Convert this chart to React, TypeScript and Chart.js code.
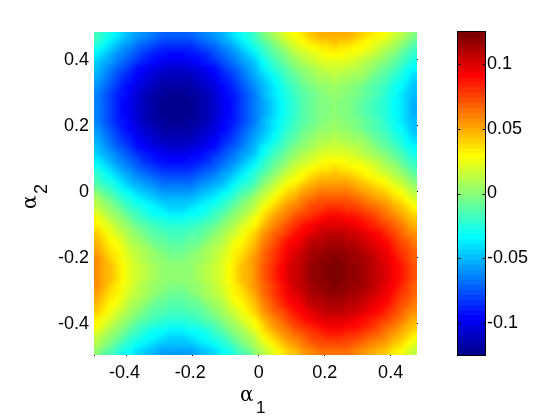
import React, { useEffect, useRef } from "react";
import { Chart, registerables } from "chart.js";

Chart.register(...registerables);

// Cell centres
const alpha1 = [-0.49,-0.47,-0.45,-0.43,-0.41,-0.39,-0.37,-0.35,-0.33,-0.31,-0.29,-0.27,-0.25,-0.23,-0.21,-0.19,-0.17,-0.15,-0.13,-0.11,-0.09,-0.07,-0.05,-0.03,-0.01,0.01,0.03,0.05,0.07,0.09,0.11,0.13,0.15,0.17,0.19,0.21,0.23,0.25,0.27,0.29,0.31,0.33,0.35,0.37,0.39,0.41,0.43,0.45,0.47];
const alpha2 = [0.47,0.45,0.43,0.41,0.39,0.37,0.35,0.33,0.31,0.29,0.27,0.25,0.23,0.21,0.19,0.17,0.15,0.13,0.11,0.09,0.07,0.05,0.03,0.01,-0.01,-0.03,-0.05,-0.07,-0.09,-0.11,-0.13,-0.15,-0.17,-0.19,-0.21,-0.23,-0.25,-0.27,-0.29,-0.31,-0.33,-0.35,-0.37,-0.39,-0.41,-0.43,-0.45,-0.47,-0.49];

// Estimated row values, in thousandths
const a = [-66,-74,-81,-88,-95,-101,-107,-112,-116,-120,-122,-124,-124,-124,-122,-120,-116,-112,-107,-101,-95,-88,-81,-74,-66,-56,-48,-40,-33,-26,-20,-15,-10,-6,-3,-1,0,-1,-3,-5,-8,-12,-16,-21,-26,-32,-38,-45,-52];
const b = [-64,-72,-79,-86,-93,-99,-105,-110,-114,-118,-120,-122,-122,-122,-120,-118,-114,-110,-105,-99,-93,-86,-79,-72,-64,-54,-46,-38,-31,-24,-18,-13,-8,-4,-1,1,2,1,-1,-3,-6,-10,-14,-19,-24,-30,-36,-43,-50];
const c = [-62,-70,-77,-84,-91,-97,-103,-108,-112,-116,-118,-120,-120,-120,-118,-116,-112,-108,-103,-97,-91,-84,-77,-70,-62,-52,-44,-36,-29,-22,-16,-11,-6,-2,1,3,4,3,1,-1,-4,-8,-12,-17,-22,-28,-34,-41,-48];
const d = [-58,-66,-73,-80,-87,-93,-99,-104,-108,-112,-114,-116,-116,-116,-114,-112,-108,-104,-99,-93,-87,-80,-73,-66,-58,-48,-40,-32,-25,-18,-12,-7,-2,2,5,7,8,7,5,3,0,-4,-8,-13,-18,-24,-30,-37,-44];
const e = [-54,-62,-69,-76,-83,-89,-95,-100,-104,-108,-110,-112,-112,-112,-110,-108,-104,-100,-95,-89,-83,-76,-69,-62,-54,-44,-36,-28,-21,-14,-8,-3,2,6,9,11,12,11,9,7,4,0,-4,-9,-14,-20,-26,-33,-40];
const f = [-49,-57,-64,-71,-78,-84,-90,-95,-99,-103,-105,-107,-107,-107,-105,-103,-99,-95,-90,-84,-78,-71,-64,-57,-49,-39,-31,-23,-16,-9,-3,2,7,11,14,16,17,16,14,12,9,5,1,-4,-9,-15,-21,-28,-35];
const g = [-43,-51,-58,-65,-72,-78,-84,-89,-93,-97,-99,-101,-101,-101,-99,-97,-93,-89,-84,-78,-72,-65,-58,-51,-43,-33,-25,-17,-10,-3,3,8,13,17,20,22,23,22,20,18,15,11,7,2,-3,-9,-15,-22,-29];
const h = [-37,-45,-52,-59,-66,-72,-78,-83,-87,-91,-93,-95,-95,-95,-93,-91,-87,-83,-78,-72,-66,-59,-52,-45,-37,-27,-19,-11,-4,3,9,14,19,23,26,28,29,28,26,24,21,17,13,8,3,-3,-9,-16,-23];
const i = [-30,-38,-45,-52,-59,-65,-71,-76,-80,-84,-86,-88,-88,-88,-86,-84,-80,-76,-71,-65,-59,-52,-45,-38,-30,-20,-12,-4,3,10,16,21,26,30,33,35,36,35,33,31,28,24,20,15,10,4,-2,-9,-16];
const j = [-23,-31,-38,-45,-52,-58,-64,-69,-73,-77,-79,-81,-81,-81,-79,-77,-73,-69,-64,-58,-52,-45,-38,-31,-23,-13,-5,3,10,17,23,28,33,37,40,42,43,42,40,38,35,31,27,22,17,11,5,-2,-9];
const k = [-16,-24,-31,-38,-45,-51,-57,-62,-66,-70,-72,-74,-74,-74,-72,-70,-66,-62,-57,-51,-45,-38,-31,-24,-16,-6,2,10,17,24,30,35,40,44,47,49,50,49,47,45,42,38,34,29,24,18,12,5,-2];
const l = [-8,-16,-23,-30,-37,-43,-49,-54,-58,-62,-64,-66,-66,-66,-64,-62,-58,-54,-49,-43,-37,-30,-23,-16,-8,2,10,18,25,32,38,43,48,52,55,57,58,57,55,53,50,46,42,37,32,26,20,13,6];
const m = [0,-8,-15,-22,-29,-35,-41,-46,-50,-54,-56,-58,-58,-58,-56,-54,-50,-46,-41,-35,-29,-22,-15,-8,0,10,18,26,33,40,46,51,56,60,63,65,66,65,63,61,58,54,50,45,40,34,28,21,14];
const n = [8,0,-7,-14,-21,-27,-33,-38,-42,-46,-48,-50,-50,-50,-48,-46,-42,-38,-33,-27,-21,-14,-7,0,8,18,26,34,41,48,54,59,64,68,71,73,74,73,71,69,66,62,58,53,48,42,36,29,22];
const o = [15,7,0,-7,-14,-20,-26,-31,-35,-39,-41,-43,-43,-43,-41,-39,-35,-31,-26,-20,-14,-7,0,7,15,25,33,41,48,55,61,66,71,75,78,80,81,80,78,76,73,69,65,60,55,49,43,36,29];
const p = [22,14,7,0,-7,-13,-19,-24,-28,-32,-34,-36,-36,-36,-34,-32,-28,-24,-19,-13,-7,0,7,14,22,32,40,48,55,62,68,73,78,82,85,87,88,87,85,83,80,76,72,67,62,56,50,43,36];
const q = [29,21,14,7,0,-6,-12,-17,-21,-25,-27,-29,-29,-29,-27,-25,-21,-17,-12,-6,0,7,14,21,29,39,47,55,62,69,75,80,85,89,92,94,95,94,92,90,87,83,79,74,69,63,57,50,43];
const r = [35,27,20,13,6,0,-6,-11,-15,-19,-21,-23,-23,-23,-21,-19,-15,-11,-6,0,6,13,20,27,35,45,53,61,68,75,81,86,91,95,98,100,101,100,98,96,93,89,85,80,75,69,63,56,49];
const s = [41,33,26,19,12,6,0,-5,-9,-13,-15,-17,-17,-17,-15,-13,-9,-5,0,6,12,19,26,33,41,51,59,67,74,81,87,92,97,101,104,106,107,106,104,102,99,95,91,86,81,75,69,62,55];
const t = [46,38,31,24,17,11,5,0,-4,-8,-10,-12,-12,-12,-10,-8,-4,0,5,11,17,24,31,38,46,56,64,72,79,86,92,97,102,106,109,111,112,111,109,107,104,100,96,91,86,80,74,67,60];
const u = [50,42,35,28,21,15,9,4,0,-4,-6,-8,-8,-8,-6,-4,0,4,9,15,21,28,35,42,50,60,68,76,83,90,96,101,106,110,113,115,116,115,113,111,108,104,100,95,90,84,78,71,64];
const v = [54,46,39,32,25,19,13,8,4,0,-2,-4,-4,-4,-2,0,4,8,13,19,25,32,39,46,54,64,72,80,87,94,100,105,110,114,117,119,120,119,117,115,112,108,104,99,94,88,82,75,68];
const w = [56,48,41,34,27,21,15,10,6,2,0,-2,-2,-2,0,2,6,10,15,21,27,34,41,48,56,66,74,82,89,96,102,107,112,116,119,121,122,121,119,117,114,110,106,101,96,90,84,77,70];
const x = [58,50,43,36,29,23,17,12,8,4,2,0,0,0,2,4,8,12,17,23,29,36,43,50,58,68,76,84,91,98,104,109,114,118,121,123,124,123,121,119,116,112,108,103,98,92,86,79,72];

const rows = [k,j,i,h,g,f,e,d,c,b,a,a,a,b,c,d,e,f,g,h,i,j,k,l,m,n,o,p,q,r,s,t,u,v,w,x,x,x,w,v,u,t,s,r,q,p,o,n,m];

const axisTicks = [-0.4, -0.2, 0, 0.2, 0.4];
const colorTicks = [-0.1, -0.05, 0, 0.05, 0.1];
const colorMin = -0.125;
const colorMax = 0.125;
const colorLevels = 64;

const FONT = "'Liberation Sans', Arial, sans-serif";

function jetLevel(idx: number): string {
  const tt = (idx + 1) / colorLevels;
  const cl = (z: number) => Math.max(0, Math.min(1, z));
  const R = cl(1.5 - Math.abs(4 * tt - 3));
  const G = cl(1.5 - Math.abs(4 * tt - 2));
  const B = cl(1.5 - Math.abs(4 * tt - 1));
  return `rgb(${Math.round(R * 255)},${Math.round(G * 255)},${Math.round(B * 255)})`;
}

function jet(val: number): string {
  const idx = Math.floor(((val - colorMin) / (colorMax - colorMin)) * colorLevels);
  return jetLevel(Math.max(0, Math.min(colorLevels - 1, idx)));
}

// Interpolated shading: the drawn cells are resampled smoothly, as the reference's shading is.
const smoothShading = {
  id: "smoothShading",
  afterDatasetsDraw(chart: any) {
    const { ctx, chartArea, canvas } = chart;
    const L = Math.round(chartArea.left);
    const T = Math.round(chartArea.top);
    const W = Math.round(chartArea.right) - L;
    const H = Math.round(chartArea.bottom) - T;
    const small = document.createElement("canvas");
    small.width = alpha1.length;
    small.height = alpha2.length;
    const sctx = small.getContext("2d")!;
    sctx.imageSmoothingEnabled = false;
    sctx.drawImage(canvas, L, T, W, H, 0, 0, small.width, small.height);
    ctx.save();
    ctx.imageSmoothingEnabled = true;
    ctx.imageSmoothingQuality = "high";
    ctx.drawImage(small, L, T, W, H);
    ctx.restore();
  },
};

const mainDecor = {
  id: "mainDecor",
  afterDraw(chart: any) {
    const { ctx, chartArea, scales } = chart;
    ctx.save();
    ctx.fillStyle = "#000";
    for (const tv of axisTicks) {
      ctx.fillRect(Math.round(chartArea.right), Math.round(scales.y.getPixelForValue(tv)) + 1, 1, 1);
    }
    ctx.fillRect(Math.round(chartArea.left), Math.round(chartArea.bottom), 1, 1);
    ctx.textAlign = "left";
    ctx.textBaseline = "alphabetic";
    ctx.font = `20px 'DejaVu Serif', serif`;
    ctx.fillText("α", 240, 401);
    ctx.font = `17px ${FONT}`;
    ctx.fillText("1", 256, 413);
    ctx.translate(36, 209);
    ctx.rotate(-Math.PI / 2);
    ctx.font = `20px 'DejaVu Serif', serif`;
    ctx.fillText("α", 0, 0);
    ctx.font = `18px ${FONT}`;
    ctx.fillText("2", 15, 11);
    ctx.restore();
  },
};

const barDecor = {
  id: "barDecor",
  afterDraw(chart: any) {
    const { ctx, chartArea, scales } = chart;
    ctx.save();
    ctx.strokeStyle = "#000";
    ctx.lineWidth = 1;
    const L = Math.round(chartArea.left) - 0.5;
    const R = Math.round(chartArea.right) + 0.5;
    const T = Math.round(chartArea.top) - 0.5;
    const B = Math.round(chartArea.bottom) + 0.5;
    ctx.strokeRect(L, T, R - L, B - T);
    ctx.beginPath();
    for (const tv of colorTicks) {
      const py = Math.round(scales.y.getPixelForValue(tv)) + 0.5;
      ctx.moveTo(L, py);
      ctx.lineTo(L + 3, py);
      ctx.moveTo(R, py);
      ctx.lineTo(R - 3, py);
    }
    ctx.stroke();
    ctx.restore();
  },
};

export default function App() {
  const mainRef = useRef<HTMLCanvasElement>(null);
  const barRef = useRef<HTMLCanvasElement>(null);

  useEffect(() => {
    Chart.defaults.font.family = FONT;
    Chart.defaults.font.size = 18;
    Chart.defaults.color = "#000";

    const points: { x: number; y: number }[] = [];
    const colors: string[] = [];
    rows.forEach((row, ri) => {
      row.forEach((val, ci) => {
        points.push({ x: alpha1[ci], y: alpha2[ri] });
        colors.push(jet(val / 1000));
      });
    });

    const main = new Chart(mainRef.current!, {
      type: "scatter",
      data: {
        datasets: [
          {
            data: points,
            pointStyle: "rect",
            pointRadius: 4.9,
            pointBorderWidth: 0,
            pointBackgroundColor: colors,
            showLine: false,
          } as any,
        ],
      },
      options: {
        animation: false,
        responsive: false,
        devicePixelRatio: 1,
        layout: { padding: { left: 0, top: 32, right: 143, bottom: 0 } },
        plugins: { legend: { display: false }, tooltip: { enabled: false } },
        events: [],
        scales: {
          x: {
            type: "linear",
            min: -0.5,
            max: 0.48,
            afterBuildTicks: (sc: any) => { sc.ticks = axisTicks.map((value) => ({ value })); },
            afterFit: (sc: any) => { sc.height = 65; },
            ticks: { autoSkip: false, maxRotation: 0, padding: 6, callback: (val: any) => (val < 0 ? String(val) + " " : String(val)) },
            grid: { drawOnChartArea: false, tickLength: 1, tickColor: "#000" },
            border: { display: false },
          },
          y: {
            type: "linear",
            min: -0.5,
            max: 0.48,
            afterBuildTicks: (sc: any) => { sc.ticks = axisTicks.map((value) => ({ value })); },
            afterFit: (sc: any) => { sc.width = 94; },
            ticks: { autoSkip: false, padding: 5, labelOffset: 2, callback: (val: any) => String(val) },
            grid: { drawOnChartArea: false, drawTicks: false },
            border: { display: false },
          },
        },
      } as any,
      plugins: [smoothShading, mainDecor],
    });

    const levelValues = Array.from({ length: colorLevels }, (_, idx) => colorMin + ((idx + 0.5) * (colorMax - colorMin)) / colorLevels);
    const bar = new Chart(barRef.current!, {
      type: "bar",
      data: {
        datasets: [
          {
            data: levelValues.map((lv) => ({ x: 1, y: lv })),
            backgroundColor: levelValues.map((_, idx) => jetLevel(idx)),
            barPercentage: 1,
            categoryPercentage: 1,
            borderWidth: 0,
          } as any,
        ],
      },
      options: {
        indexAxis: "y",
        animation: false,
        responsive: false,
        devicePixelRatio: 1,
        layout: { padding: { left: 458, top: 32, right: 0, bottom: 65 } },
        plugins: { legend: { display: false }, tooltip: { enabled: false } },
        events: [],
        scales: {
          x: { type: "linear", min: 0, max: 1, display: false },
          y: {
            type: "linear",
            position: "right",
            offset: false,
            min: colorMin,
            max: colorMax,
            afterBuildTicks: (sc: any) => { sc.ticks = colorTicks.map((value) => ({ value })); },
            afterFit: (sc: any) => { sc.width = 75; },
            ticks: { autoSkip: false, padding: 2, callback: (val: any) => String(val) },
            grid: { offset: false, drawOnChartArea: false, drawTicks: false },
            border: { display: false },
          },
        },
      } as any,
      plugins: [barDecor],
    });

    return () => {
      main.destroy();
      bar.destroy();
    };
  }, []);

  const layer: React.CSSProperties = { position: "absolute", left: 0, top: 0 };
  return (
    <div style={{ position: "fixed", left: 0, top: 0, width: 560, height: 420, background: "#fff" }}>
      <canvas ref={mainRef} width={560} height={420} style={layer} />
      <canvas ref={barRef} width={560} height={420} style={layer} />
    </div>
  );
}
